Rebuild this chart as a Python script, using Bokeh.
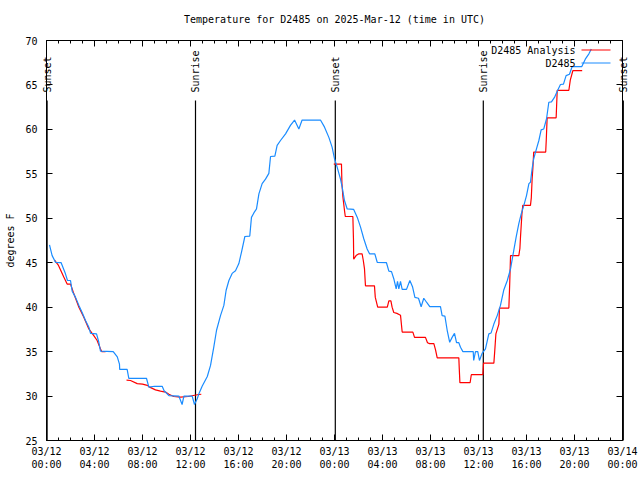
import math
import numpy as np
import pandas as pd
from bokeh.plotting import figure
from bokeh.models import (Range1d, FixedTicker, DatetimeTickFormatter, DatetimeAxis,
                          LinearAxis, Label, ColumnDataSource)
from bokeh.embed import file_html
from bokeh.resources import INLINE

# ---------------- data ----------------
TITLE = "Temperature for D2485 on 2025-Mar-12 (time in UTC)"
START = "2025-03-12 00:00"
END = "2025-03-14 00:00"
Y_LABEL = "degrees F"
OBS_NAME = "D2485"
ANA_NAME = "D2485 Analysis"

# observation (hours after START, degrees F)
obs_hours = [0.25, 0.47, 0.75, 1.22, 1.58, 1.75, 2.0, 2.14, 2.42, 2.7, 2.97, 3.25, 3.53, 3.67,
             4.17, 4.36, 4.5, 5.56, 5.9, 6.08, 6.1, 6.72, 6.86, 8.33, 8.53, 9.0, 9.64, 9.8,
             10.2, 11.03, 11.3, 11.45, 12.14, 12.33, 12.56, 12.7, 12.97, 13.4, 13.67, 13.94,
             14.17, 14.5, 14.78, 14.97, 15.2, 15.47, 15.75, 16.03, 16.25, 16.53, 16.94, 17.08,
             17.28, 17.5, 17.7, 17.97, 18.25, 18.53, 18.67, 19.03, 19.22, 19.5, 19.92, 20.33,
             20.67, 21.03, 21.3, 22.83, 23.17, 23.53, 23.8, 24.0, 24.22, 24.5, 24.64, 24.83,
             25.06, 25.6, 25.9, 26.17, 26.44, 26.72, 26.92, 27.36, 27.56, 28.33, 28.53, 28.75,
             28.94, 29.14, 29.25, 29.36, 29.5, 29.64, 30.0, 30.28, 30.5, 30.7, 31.0, 31.22,
             31.44, 31.7, 31.94, 32.83, 32.97, 33.2, 33.39, 33.6, 33.8, 34.0, 34.17, 34.36,
             34.5, 34.7, 35.56, 35.6, 35.75, 35.94, 36.08, 36.3, 36.58, 36.86, 37.05, 37.28,
             37.56, 37.83, 38.1, 38.4, 38.67, 38.94, 39.14, 39.36, 39.56, 39.78, 40.0, 40.2,
             40.33, 40.47, 40.6, 40.83, 41.03, 41.22, 41.44, 41.67, 41.86, 42.08, 42.33, 42.6,
             42.83, 43.08, 43.3, 43.58, 43.8, 44.6, 44.9, 45.2, 45.4]
obs_temp = [47.0, 45.8, 45.05, 45.0, 43.75, 43.0, 43.0, 41.8, 41.1, 40.2, 39.4, 38.5, 37.75, 37.05,
            37.0, 36.05, 35.05, 35.0, 34.4, 33.6, 33.0, 33.0, 32.0, 32.0, 31.0, 31.1, 31.1, 30.6,
            30.05, 30.0, 29.05, 30.0, 30.0, 29.05, 29.7, 30.25, 31.1, 32.2, 33.45, 35.5,
            37.4, 39.05, 40.2, 41.9, 43.0, 43.8, 44.1, 44.9, 46.2, 47.95, 48.0, 50.1,
            50.6, 51.05, 52.75, 53.9, 54.4, 55.05, 56.95, 57.0, 58.2, 58.75, 59.5, 60.45,
            61.05, 60.05, 61.05, 61.05, 60.25, 59.1, 58.0, 56.7, 55.75, 54.4, 53.5, 52.0,
            51.05, 51.0, 50.1, 49.0, 47.7, 46.55, 46.0, 46.0, 45.05, 45.0, 44.05, 44.0,
            43.2, 42.05, 42.9, 42.05, 42.9, 42.0, 42.0, 43.0, 42.3, 41.1, 41.0, 40.05,
            41.0, 40.5, 40.05, 40.05, 39.05, 39.0, 37.4, 36.05, 36.6, 37.05, 36.0, 36.0,
            35.5, 35.0, 35.0, 34.0, 35.0, 35.0, 34.0, 34.8, 35.3, 37.0, 37.1, 38.1,
            39.05, 40.2, 41.9, 43.0, 44.3, 46.4, 47.9, 49.4, 50.5, 51.45, 52.55, 53.9,
            54.05, 55.6, 56.7, 57.8, 58.75, 59.95, 60.05, 61.2, 63.05, 63.1, 63.6, 64.4,
            65.05, 65.1, 66.05, 66.2, 67.05, 67.05, 67.9, 68.5, 69.05]

# analysis (hours after START, degrees F); nan = no analysis
ana_hours = [0.67, 1.0, 1.44, 1.72, 2.0, 2.28, 2.7, 3.1, 3.53, 3.94, 4.22, 4.5, 4.6, 4.92,
             5.8,
             6.67, 7.0, 7.56, 8.0, 8.4, 8.6, 9.08, 9.5, 9.92, 10.2, 10.6, 11.17, 11.8, 12.56, 12.9,
             18.0,
             23.94, 24.58, 24.62, 24.7, 24.83, 24.9, 25.53, 25.58, 25.6, 25.8, 26.03, 26.3, 26.4,
             26.5, 26.58, 27.33, 27.4, 27.6, 28.4, 28.53, 28.7, 28.8, 28.94, 29.2, 29.5, 29.64,
             30.53, 30.67, 31.58, 31.75, 31.92, 32.28, 32.42, 32.56, 34.36, 34.4, 34.45, 35.3,
             35.4, 36.36, 36.42, 37.28, 37.35, 37.45, 37.7, 37.75, 38.53, 38.6, 38.67, 39.36,
             39.45, 39.5, 39.62, 39.69, 40.33, 40.4, 40.47, 40.53, 40.6, 41.6, 41.65, 41.72,
             42.47, 42.56, 43.53, 43.65, 43.86, 44.64]
ana_temp = [45.3, 44.7, 43.4, 42.6, 42.6, 41.5, 40.0, 38.9, 37.55, 36.8, 36.25, 35.3, 35.0, 35.0,
            math.nan,
            31.8, 31.75, 31.4, 31.35, 31.2, 31.0, 30.7, 30.55, 30.45, 30.2, 29.95, 29.87, 29.95, 30.15, 30.2,
            math.nan,
            56.1, 56.1, 53.9, 52.4, 50.9, 50.2, 50.2, 47.7, 45.4, 45.8, 46.0, 46.0, 45.25,
            44.3, 42.4, 42.4, 41.1, 40.0, 40.0, 40.7, 40.7, 40.0, 39.4, 39.3, 39.1, 37.2,
            37.2, 36.6, 36.6, 36.0, 35.9, 35.9, 35.2, 34.3, 34.3, 33.0, 31.5, 31.5,
            32.4, 32.4, 33.7, 33.7, 35.0, 37.0, 38.1, 39.9, 39.9, 42.6, 45.8, 45.8,
            46.6, 47.9, 50.5, 51.45, 51.45, 52.3, 54.45, 55.6, 57.45, 57.45, 58.9, 61.3,
            61.3, 64.4, 64.4, 65.55, 66.6, 66.6]

sunrise_times = ["2025-03-12 12:25", "2025-03-13 12:24"]
sunset_times = ["2025-03-12 00:03", "2025-03-13 00:04", "2025-03-14 00:04"]

y_ticks = [25, 30, 35, 40, 45, 50, 55, 60, 65, 70]
x_major_hours = list(range(0, 49, 4))
x_minor_hours = list(range(0, 49, 1))

# ---------------- layout / style ----------------
FONT = "DejaVu Sans Mono"
FS = "10px"
OBS_COLOR = "#1a8cff"
ANA_COLOR = "#ff0000"
W, H = 638, 478
BOX_L, BOX_R, BOX_T, BOX_B = 46, 622, 40, 440   # axes box in canvas pixels

t0 = pd.Timestamp(START)
t1 = pd.Timestamp(END)
HOUR_MS = 3.6e6


def to_time(hours):
    return t0 + pd.to_timedelta(np.asarray(hours, dtype=float), unit="h")


def ms(ts):
    return float(pd.Timestamp(ts).value / 1e6)


x0_ms, x1_ms = ms(t0), ms(t1)
ms_per_px = (x1_ms - x0_ms) / (BOX_R - BOX_L)
deg_per_px = (y_ticks[-1] - y_ticks[0]) / (BOX_B - BOX_T)


def xpos(px):   # canvas pixel -> x data (for decorations only)
    return x0_ms + (px - BOX_L) * ms_per_px


def ypos(py):   # canvas pixel -> y data (for decorations only)
    return y_ticks[0] + (BOX_B - py) * deg_per_px


# the frame covers the whole canvas, axes are drawn at the box edges, so that
# edge labels (Sunset) are not clipped
x_range = Range1d(xpos(0), xpos(W))
y_range = Range1d(ypos(H), ypos(0))

obs_src = ColumnDataSource(dict(t=to_time(obs_hours), v=obs_temp))
ana_src = ColumnDataSource(dict(t=to_time(ana_hours), v=ana_temp))

p = figure(width=W, height=H, x_axis_type="datetime", x_range=x_range, y_range=y_range,
           x_axis_location=None, y_axis_location=None,
           output_backend="svg", toolbar_location=None,
           min_border=0, min_border_left=0, min_border_right=0,
           min_border_top=0, min_border_bottom=0)
p.background_fill_color = "white"
p.border_fill_color = "white"
p.outline_line_color = None
p.grid.visible = False

x_ticker = FixedTicker(ticks=[x0_ms + h * HOUR_MS for h in x_major_hours],
                       minor_ticks=[x0_ms + h * HOUR_MS for h in x_minor_hours])
y_ticker = FixedTicker(ticks=y_ticks, minor_ticks=[])
fmt_str = "%m/%d\n%H:%M"
x_fmt = DatetimeTickFormatter(microseconds=fmt_str, milliseconds=fmt_str, seconds=fmt_str,
                              minsec=fmt_str, minutes=fmt_str, hourmin=fmt_str, hours=fmt_str,
                              days=fmt_str, months=fmt_str, years=fmt_str)


def style_axis(ax, labels=True):
    ax.axis_line_color = "black"
    ax.axis_line_width = 1
    ax.major_tick_line_color = "black"
    ax.minor_tick_line_color = "black"
    ax.major_tick_in = 6
    ax.major_tick_out = 0
    ax.minor_tick_in = 3
    ax.minor_tick_out = 0
    ax.major_label_text_font = FONT
    ax.major_label_text_font_size = FS
    ax.axis_label_text_font = FONT
    ax.axis_label_text_font_size = FS
    ax.axis_label_text_font_style = "normal"
    ax.axis_label_text_color = "black"
    if labels:
        ax.major_label_text_color = "black"
    else:
        ax.major_label_text_color = None


bottom_ax = DatetimeAxis(ticker=x_ticker, formatter=x_fmt, fixed_location=y_ticks[0],
                         bounds=(x0_ms, x1_ms))
style_axis(bottom_ax)
bottom_ax.major_label_standoff = 5
p.add_layout(bottom_ax, "below")

top_ax = DatetimeAxis(ticker=x_ticker, formatter=x_fmt, fixed_location=y_ticks[-1],
                      bounds=(x0_ms, x1_ms))
style_axis(top_ax, labels=False)
p.add_layout(top_ax, "above")

left_ax = LinearAxis(ticker=y_ticker, fixed_location=x0_ms, bounds=(y_ticks[0], y_ticks[-1]),
                     axis_label=Y_LABEL)
style_axis(left_ax)
left_ax.major_label_standoff = 9
left_ax.axis_label_standoff = 6
p.add_layout(left_ax, "left")

right_ax = LinearAxis(ticker=y_ticker, fixed_location=x1_ms, bounds=(y_ticks[0], y_ticks[-1]))
style_axis(right_ax, labels=False)
p.add_layout(right_ax, "right")

# title
p.add_layout(Label(x=xpos((BOX_L + BOX_R) / 2), y=ypos(19), text=TITLE, text_align="center",
                   text_baseline="middle", text_font=FONT, text_font_size=FS,
                   text_color="black"))

# sunrise / sunset markers: vertical lines + vertical labels
LINE_TOP = ypos(100)
LABEL_BASE = ypos(92)
events = [(t, "Sunset") for t in sunset_times] + [(t, "Sunrise") for t in sunrise_times]
ev_t = pd.to_datetime([e[0] for e in events])
ev_src = ColumnDataSource(dict(x=ev_t, y0=[y_ticks[0]] * len(events), y1=[LINE_TOP] * len(events)))
p.segment(x0="x", y0="y0", x1="x", y1="y1", source=ev_src, line_color="black", line_width=1.2)
for t, name in events:
    p.add_layout(Label(x=ms(t), y=LABEL_BASE, text=name, angle=math.pi / 2,
                       text_align="left", text_baseline="middle", text_font=FONT,
                       text_font_size=FS, text_color="black"))

# series
p.line("t", "v", source=ana_src, line_color=ANA_COLOR, line_width=1.2)
p.line("t", "v", source=obs_src, line_color=OBS_COLOR, line_width=1.2)

# legend (gnuplot style: label then sample, top right)
leg_rows = [(ANA_NAME, ANA_COLOR, ypos(49.5)), (OBS_NAME, OBS_COLOR, ypos(62.5))]
for name, col, yy in leg_rows:
    p.add_layout(Label(x=xpos(575), y=yy, text=name, text_align="right",
                       text_baseline="middle", text_font=FONT, text_font_size=FS,
                       text_color="black"))
leg_src = ColumnDataSource(dict(x0=[xpos(581)] * 2, x1=[xpos(610)] * 2,
                                y=[r[2] for r in leg_rows], c=[r[1] for r in leg_rows]))
p.segment(x0="x0", y0="y", x1="x1", y1="y", line_color="c", source=leg_src, line_width=1.2)

open("out.html", "w").write(file_html(p, INLINE))
